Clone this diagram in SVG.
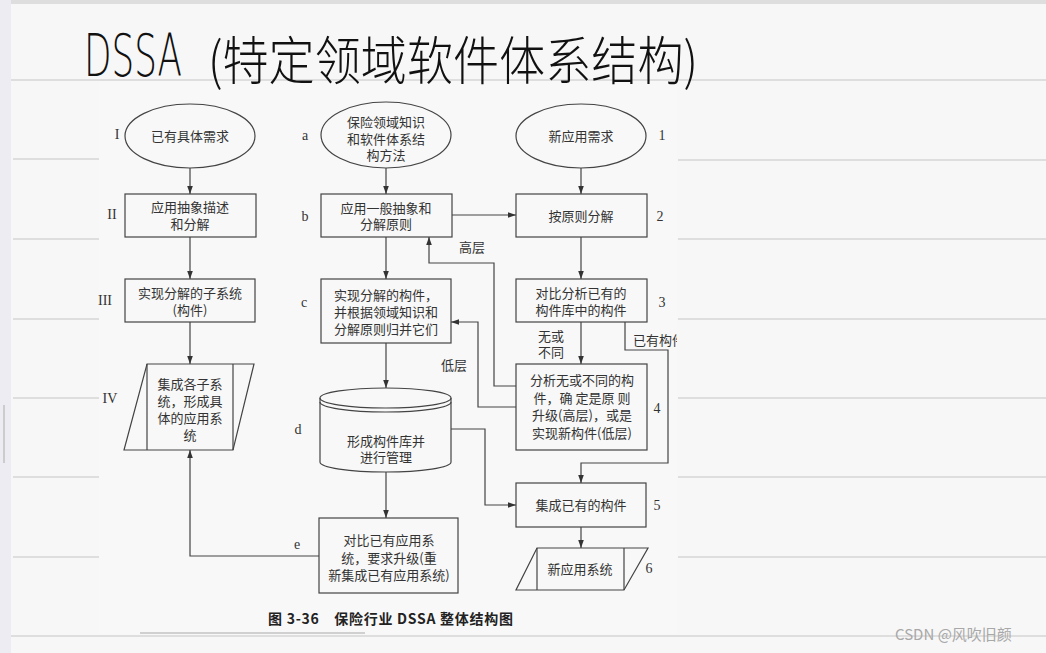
<svg xmlns="http://www.w3.org/2000/svg" width="1046" height="653" viewBox="0 0 1046 653">
<defs>
<marker id="ah" viewBox="0 0 10 10" refX="10" refY="5" markerWidth="10" markerHeight="8" markerUnits="userSpaceOnUse" orient="auto">
<path d="M0,1.5 L10,5 L0,8.5 Z" fill="#333"/>
</marker>
<clipPath id="imgclip"><rect x="99" y="81" width="578" height="552"/></clipPath>
<style>
.box{fill:none;stroke:#444;stroke-width:1.2}
.ln{fill:none;stroke:#444;stroke-width:1.2}
.arr{fill:none;stroke:#444;stroke-width:1.2;marker-end:url(#ah)}
.t{font-family:"Noto Sans CJK SC","Noto Sans",sans-serif;font-size:13px;fill:#333;text-anchor:middle}
.lab{font-family:"Liberation Serif","Noto Sans CJK SC",serif;font-size:14px;fill:#333;text-anchor:middle}
.rule{stroke:#d6d6d6;stroke-width:1.5}
</style>
</defs>
<!-- page background -->
<rect x="0" y="0" width="1046" height="653" fill="#f7f7f7"/>
<rect x="0" y="0" width="1046" height="4" fill="#dedede"/>
<rect x="0" y="0" width="11" height="653" fill="#ececf2"/>
<line x1="4" y1="405" x2="4" y2="463" stroke="#ccc" stroke-width="2"/>
<line x1="11" y1="80" x2="1046" y2="80" class="rule"/>
<g id="rules">
<line x1="13" y1="159" x2="99" y2="159" class="rule"/>
<line x1="13" y1="239" x2="99" y2="239" class="rule"/>
<line x1="13" y1="319" x2="99" y2="319" class="rule"/>
<line x1="13" y1="398" x2="99" y2="398" class="rule"/>
<line x1="13" y1="477" x2="99" y2="477" class="rule"/>
<line x1="13" y1="557" x2="99" y2="557" class="rule"/>
<line x1="678" y1="160" x2="1046" y2="160" class="rule"/>
<line x1="678" y1="239" x2="1046" y2="239" class="rule"/>
<line x1="678" y1="319" x2="1046" y2="319" class="rule"/>
<line x1="678" y1="398" x2="1046" y2="398" class="rule"/>
<line x1="678" y1="477" x2="1046" y2="477" class="rule"/>
<line x1="678" y1="557" x2="1046" y2="557" class="rule"/>
<line x1="11" y1="636" x2="1046" y2="636" class="rule"/>
</g>
<rect x="99" y="81" width="578" height="553" fill="#f8f8f8"/>
<line x1="140" y1="633" x2="365" y2="633" stroke="#d0d0d0" stroke-width="2"/>

<!-- handwritten title -->
<g id="title" fill="#111">
<text x="84" y="76" font-family="'DejaVu Sans', sans-serif" font-size="58" font-weight="200" textLength="98" lengthAdjust="spacingAndGlyphs">DSSA</text>
<text x="208" y="80" font-family="'Noto Sans CJK SC', sans-serif" font-size="52" font-weight="300" textLength="490" lengthAdjust="spacingAndGlyphs">(特定领域软件体系结构)</text>
</g>

<!-- connectors -->
<g id="connectors">
<line x1="190" y1="168" x2="190" y2="194" class="arr"/>
<line x1="190" y1="237" x2="190" y2="279" class="arr"/>
<line x1="190" y1="322" x2="190" y2="364" class="arr"/>
<polyline points="319,556 190,556 190,450" class="arr"/>
<line x1="386" y1="168" x2="386" y2="194" class="arr"/>
<line x1="452" y1="215" x2="516" y2="215" class="arr"/>
<line x1="386" y1="237" x2="386" y2="279" class="arr"/>
<line x1="386" y1="343" x2="386" y2="388" class="arr"/>
<line x1="386" y1="472" x2="386" y2="518" class="arr"/>
<polyline points="516,386 494,386 494,263 429,263 429,237" class="arr"/>
<polyline points="516,407 478,407 478,322 451,322" class="arr"/>
<polyline points="451,429 485,429 485,505 516,505" class="arr"/>
<line x1="581" y1="168" x2="581" y2="194" class="arr"/>
<line x1="581" y1="237" x2="581" y2="279" class="arr"/>
<line x1="581" y1="322" x2="581" y2="364" class="arr"/>
<polyline points="625,322 625,350 668,350 668,463 581,463 581,483" class="arr"/>
<line x1="581" y1="527" x2="581" y2="548" class="arr"/>
<text class="t" x="472" y="252">高层</text>
<text class="t" x="454" y="370">低层</text>
<text class="t" x="551" y="341">无或</text>
<text class="t" x="551" y="357">不同</text>
<g clip-path="url(#imgclip)"><text class="t" x="633" y="345" style="text-anchor:start">已有构件</text></g>
</g>

<!-- left column -->
<g id="nI">
<ellipse cx="190" cy="136" rx="65" ry="32" class="box"/>
<text class="t" x="190" y="141">已有具体需求</text>
<text class="lab" x="117" y="139">I</text>
</g>
<g id="nII">
<rect x="125" y="194" width="131" height="43" class="box"/>
<text class="t" x="190" y="212">应用抽象描述</text>
<text class="t" x="190" y="229">和分解</text>
<text class="lab" x="112" y="219">II</text>
</g>
<g id="nIII">
<rect x="125" y="279" width="130" height="43" class="box"/>
<text class="t" x="190" y="298">实现分解的子系统</text>
<text class="t" x="190" y="315">(构件)</text>
<text class="lab" x="105" y="305">III</text>
</g>
<g id="nIV">
<polygon points="147,364 254,364 233,450 124,450" class="box"/>
<line x1="147" y1="364" x2="147" y2="450" class="ln"/>
<line x1="233" y1="364" x2="233" y2="450" class="ln"/>
<text class="t" x="190" y="389">集成各子系</text>
<text class="t" x="190" y="406">统，形成具</text>
<text class="t" x="190" y="423">体的应用系</text>
<text class="t" x="190" y="440">统</text>
<text class="lab" x="110" y="403">IV</text>
</g>

<!-- middle column -->
<g id="na">
<ellipse cx="386" cy="135" rx="65" ry="33" class="box"/>
<text class="t" x="386" y="127">保险领域知识</text>
<text class="t" x="386" y="144">和软件体系结</text>
<text class="t" x="386" y="160">构方法</text>
<text class="lab" x="305" y="140">a</text>
</g>
<g id="nb">
<rect x="321" y="194" width="131" height="43" class="box"/>
<text class="t" x="386" y="213">应用一般抽象和</text>
<text class="t" x="386" y="229">分解原则</text>
<text class="lab" x="305" y="221">b</text>
</g>
<g id="nc">
<rect x="321" y="279" width="130" height="64" class="box"/>
<text class="t" x="386" y="300">实现分解的构件，</text>
<text class="t" x="386" y="317">并根据领域知识和</text>
<text class="t" x="386" y="334">分解原则归并它们</text>
<text class="lab" x="304" y="307">c</text>
</g>
<g id="nd">
<path d="M320,398 L320,462 A65.5,10 0 0 0 451,462 L451,398" class="box"/>
<ellipse cx="385.5" cy="398" rx="65.5" ry="10" class="box"/>
<path d="M320,402 A65.5,10 0 0 0 451,402" class="box"/>
<text class="t" x="386" y="446">形成构件库并</text>
<text class="t" x="386" y="462">进行管理</text>
<text class="lab" x="298" y="434">d</text>
</g>
<g id="ne">
<rect x="319" y="518" width="139" height="75" class="box"/>
<text class="t" x="389" y="545">对比已有应用系</text>
<text class="t" x="389" y="563">统，要求升级(重</text>
<text class="t" x="389" y="580">新集成已有应用系统)</text>
<text class="lab" x="297" y="549">e</text>
</g>

<!-- right column -->
<g id="n1">
<ellipse cx="581" cy="136" rx="65" ry="32" class="box"/>
<text class="t" x="581" y="141">新应用需求</text>
<text class="lab" x="662" y="140">1</text>
</g>
<g id="n2">
<rect x="516" y="194" width="131" height="43" class="box"/>
<text class="t" x="581" y="221">按原则分解</text>
<text class="lab" x="660" y="221">2</text>
</g>
<g id="n3">
<rect x="516" y="279" width="131" height="43" class="box"/>
<text class="t" x="581" y="298">对比分析已有的</text>
<text class="t" x="581" y="315">构件库中的构件</text>
<text class="lab" x="662" y="307">3</text>
</g>
<g id="n4">
<rect x="516" y="364" width="131" height="86" class="box"/>
<text class="t" x="582" y="385">分析无或不同的构</text>
<text class="t" x="582" y="403">件，确 定是原 则</text>
<text class="t" x="582" y="420">升级(高层)，或是</text>
<text class="t" x="582" y="438">实现新构件(低层)</text>
<text class="lab" x="657" y="413">4</text>
</g>
<g id="n5">
<rect x="516" y="483" width="130" height="44" class="box"/>
<text class="t" x="581" y="510">集成已有的构件</text>
<text class="lab" x="657" y="510">5</text>
</g>
<g id="n6">
<polygon points="537,548 648,548 624,590 516,590" class="box"/>
<line x1="537" y1="548" x2="537" y2="590" class="ln"/>
<line x1="624" y1="548" x2="624" y2="590" class="ln"/>
<text class="t" x="580" y="574">新应用系统</text>
<text class="lab" x="649" y="573">6</text>
</g>

<text x="268" y="624" font-family="'Noto Sans CJK SC', sans-serif" font-size="14" font-weight="bold" fill="#222" textLength="245" lengthAdjust="spacing">图 3-36　保险行业 DSSA 整体结构图</text>
<text x="895" y="640" font-family="'Noto Sans CJK SC', sans-serif" font-size="15" fill="#a8a8a8">CSDN @风吹旧颜</text>
</svg>
